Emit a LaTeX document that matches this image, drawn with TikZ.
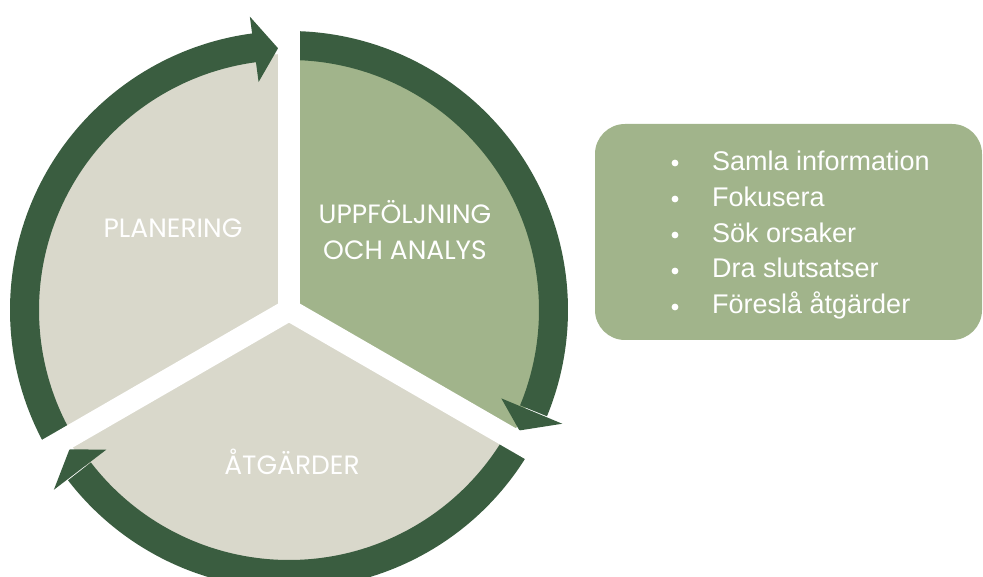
\documentclass[tikz,border=0pt]{standalone}
\usepackage{fontspec}
\setmainfont{Liberation Sans}
\newfontfamily\poppins{Poppins}
\definecolor{ringgreen}{HTML}{3A5D40}
\definecolor{sagegreen}{HTML}{A1B48B}
\definecolor{sand}{HTML}{D9D8CB}

\tikzset{
  ring/.style={draw=ringgreen, line width=29pt},
  head/.style={fill=ringgreen},
  cut/.style={draw=white, line width=22pt},
  phase/.style={text=white, font=\poppins\fontsize{26.5}{36}\selectfont, align=center},
  point/.style={text=white, font=\fontsize{27}{36}\selectfont, anchor=base west, inner sep=0pt},
}

\begin{document}
\begin{tikzpicture}[x=1pt,y=1pt]
\clip (0,0) rectangle (983,576);
\begin{scope}[shift={(289,266)}]
% sectors
\fill[sand] (0,0) -- (90:256) arc[start angle=90, end angle=210, radius=256pt] -- cycle;
\fill[sand] (0,0) -- (210:256) arc[start angle=210, end angle=330, radius=256pt] -- cycle;
\fill[sagegreen] (0,0) -- (-30:256) arc[start angle=-30, end angle=90, radius=256pt] -- cycle;
% arrows round the wheel
\draw[ring] (210:264.5) arc[start angle=210, end angle=97.4, radius=264.5pt];
\fill[head] (97.6:230) -- (92.4:262) -- (97.6:296) -- cycle;
\draw[ring] (90:264.5) arc[start angle=90, end angle=-22.4, radius=264.5pt];
\fill[head] (-22.6:230) -- (-27.6:260) -- (-22.6:296) -- cycle;
\draw[ring] (-30:264.5) arc[start angle=-30, end angle=-142.4, radius=264.5pt];
\fill[head] (-142.6:230) -- (-147.6:260) -- (-142.6:296) -- cycle;
% gaps
\draw[cut] (0,0) -- (90:300);
\draw[cut] (0,0) -- (210:300);
\draw[cut] (0,0) -- (330:300);
\end{scope}
\node[phase, anchor=base] (plan) at (173,338) {PLANERING};
\node[phase] (follow) at (405,346) {UPPFÖLJNING\\OCH ANALYS};
\node[phase, anchor=base] (act) at (292,101) {ÅTGÄRDER};

% list box
\node[fill=sagegreen, rounded corners=30pt, minimum width=387pt, minimum height=216pt, inner sep=0pt] (notes) at (788.5,344) {};
\fill[white] (675,413) circle (3.4pt);
\fill[white] (675,377) circle (3.4pt);
\fill[white] (675,341) circle (3.4pt);
\fill[white] (675,305) circle (3.4pt);
\fill[white] (675,269) circle (3.4pt);
\node[point] (info) at (712,405) {Samla information};
\node[point] (focus) at (712,369) {Fokusera};
\node[point] (cause) at (712,333) {Sök orsaker};
\node[point] (concl) at (712,298) {Dra slutsatser};
\node[point] (propose) at (712,262) {Föreslå åtgärder};
\end{tikzpicture}
\end{document}
